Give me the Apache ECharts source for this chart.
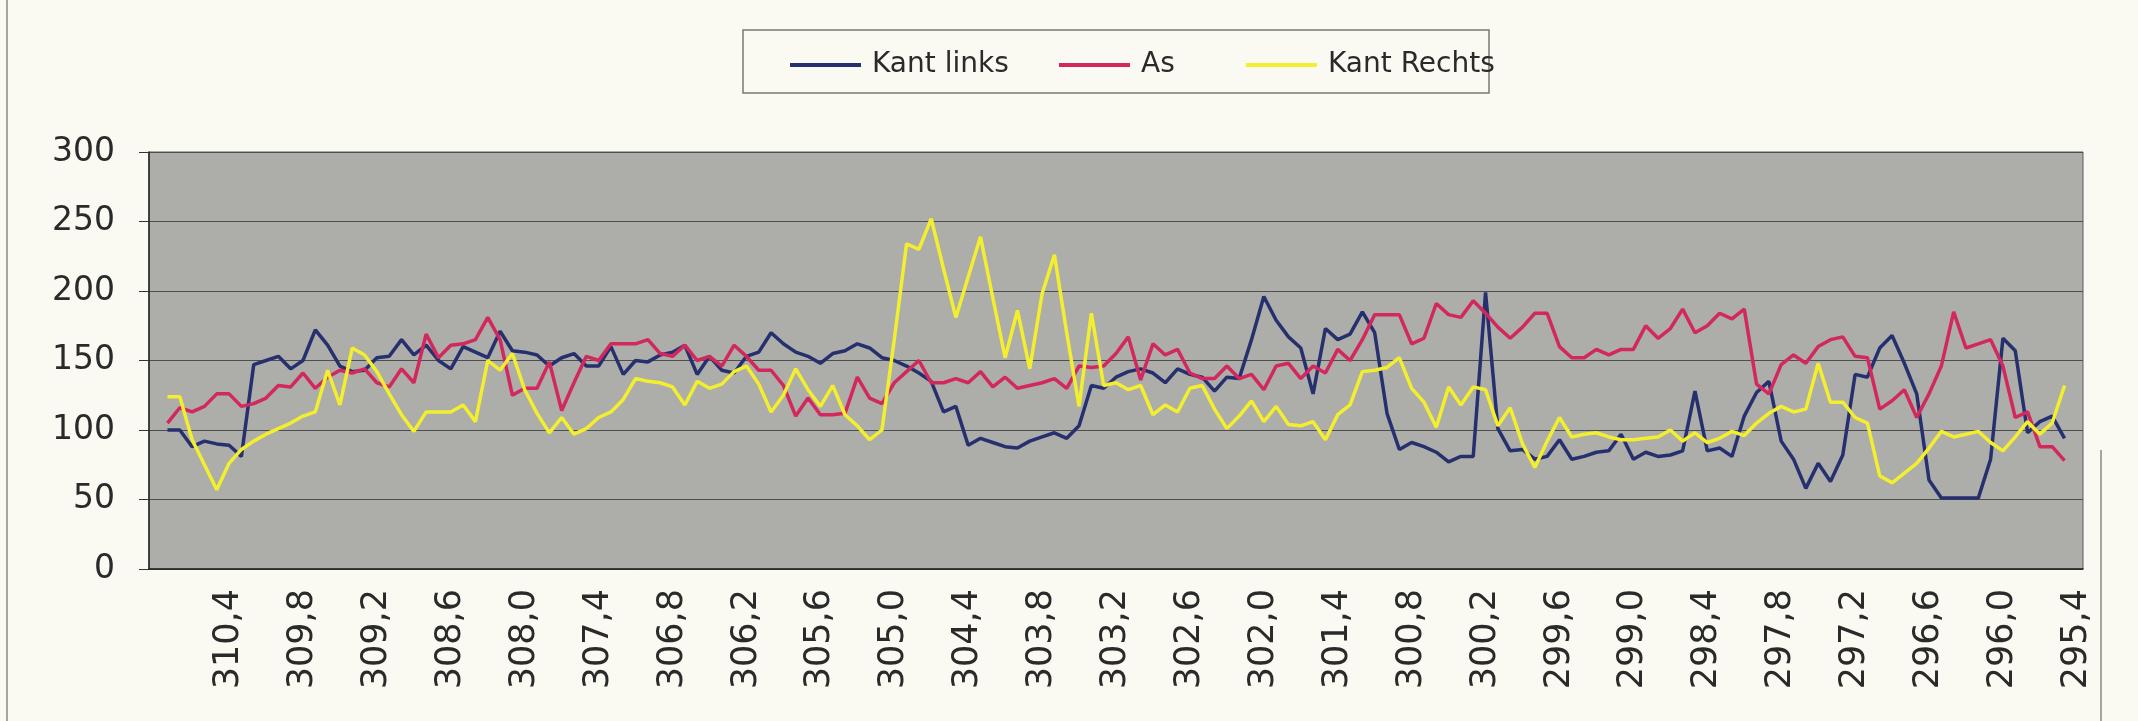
<!DOCTYPE html>
<html>
<head>
<meta charset="utf-8">
<script src="https://cdn.jsdelivr.net/npm/echarts@6/dist/echarts.min.js"></script>
<style>
html,body{margin:0;padding:0;background:#fafaf2;}
#chart{width:2138px;height:721px;}
</style>
</head>
<body>
<div id="chart"></div>
<script>
// Category labels (first and last category carry no data in the reference)
const categories = [
'311,0',
'310,9','310,8','310,7','310,6','310,5','310,4','310,3','310,2','310,1','310,0',
'309,9','309,8','309,7','309,6','309,5','309,4','309,3','309,2','309,1','309,0',
'308,9','308,8','308,7','308,6','308,5','308,4','308,3','308,2','308,1','308,0',
'307,9','307,8','307,7','307,6','307,5','307,4','307,3','307,2','307,1','307,0',
'306,9','306,8','306,7','306,6','306,5','306,4','306,3','306,2','306,1','306,0',
'305,9','305,8','305,7','305,6','305,5','305,4','305,3','305,2','305,1','305,0',
'304,9','304,8','304,7','304,6','304,5','304,4','304,3','304,2','304,1','304,0',
'303,9','303,8','303,7','303,6','303,5','303,4','303,3','303,2','303,1','303,0',
'302,9','302,8','302,7','302,6','302,5','302,4','302,3','302,2','302,1','302,0',
'301,9','301,8','301,7','301,6','301,5','301,4','301,3','301,2','301,1','301,0',
'300,9','300,8','300,7','300,6','300,5','300,4','300,3','300,2','300,1','300,0',
'299,9','299,8','299,7','299,6','299,5','299,4','299,3','299,2','299,1','299,0',
'298,9','298,8','298,7','298,6','298,5','298,4','298,3','298,2','298,1','298,0',
'297,9','297,8','297,7','297,6','297,5','297,4','297,3','297,2','297,1','297,0',
'296,9','296,8','296,7','296,6','296,5','296,4','296,3','296,2','296,1','296,0',
'295,9','295,8','295,7','295,6','295,5','295,4'
];

const yTicks = [0, 50, 100, 150, 200, 250, 300];

// Values from 310,9 to 295,5
const kantLinks = [
100,100,88,92,90,89,81,147,150,153,
144,150,172,161,146,142,143,152,153,165,
154,161,150,144,160,156,152,171,157,156,
154,146,152,155,146,146,160,140,150,149,
154,156,161,140,153,143,141,153,156,170,
162,156,153,148,155,157,162,159,152,150,
146,141,135,113,117,89,94,91,88,87,
92,95,98,94,103,132,130,138,142,144,
141,134,144,140,138,128,138,137,165,196,
179,167,159,126,173,165,169,185,170,112,
86,91,88,84,77,81,81,199,101,85,
86,79,81,93,79,81,84,85,97,79,
84,81,82,85,128,85,87,81,110,127,
135,92,79,58,76,63,82,140,138,159,
168,148,126,64,51,51,51,51,79,166,
157,98,106,110,94
];

const as = [
105,116,113,117,126,126,117,119,123,132,
131,141,130,138,143,141,144,134,131,144,
134,169,152,161,162,165,181,165,125,130,
130,149,114,134,153,150,162,162,162,165,
155,153,161,150,153,146,161,153,143,143,
132,110,123,111,111,112,138,123,119,134,
142,150,134,134,137,134,142,131,138,130,
132,134,137,130,146,145,146,155,167,136,
162,154,158,141,137,137,146,137,140,129,
146,148,137,146,141,158,150,165,183,183,
183,162,166,191,183,181,193,184,174,166,
174,184,184,160,152,152,158,154,158,158,
175,166,173,187,170,175,184,180,187,133,
126,147,154,148,160,165,167,153,152,115,
121,129,109,126,146,185,159,162,165,146,
109,113,88,88,78
];

const kantRechts = [
124,124,93,75,57,76,86,92,97,101,
105,110,113,143,118,159,154,142,126,111,
99,113,113,113,118,106,150,143,155,129,
112,98,109,97,101,109,113,122,137,135,
134,131,118,135,130,133,142,146,133,113,
125,144,129,117,132,111,103,93,100,165,
234,230,252,216,181,210,239,195,152,186,
144,198,226,170,117,184,132,134,129,132,
111,118,113,130,132,115,101,110,121,106,
117,104,103,106,93,111,118,142,143,145,
152,130,120,102,131,118,131,129,103,116,
90,73,92,109,95,97,98,95,93,93,
94,95,100,92,98,91,94,99,96,105,
112,117,113,115,148,120,120,109,105,67,
62,69,76,87,99,95,97,99,91,85,
95,106,97,105,132
];

const seriesNames = ['Kant links', 'As', 'Kant Rechts'];
const seriesColors = ['#27306e', '#d2285e', '#f3ef2e'];

function padded(v) { return [null].concat(v).concat([null]); }

const FONT = 'DejaVu Sans';
const chart = echarts.init(document.getElementById('chart'), null, {renderer: 'canvas'});

const legendBase = {
  top: 46, itemWidth: 71, itemHeight: 4, itemGap: 0, icon: 'rect',
  textStyle: {fontFamily: FONT, fontSize: 28, color: '#2a2a2a', padding: [0, 0, 0, 6]}
};

chart.setOption({
  backgroundColor: '#fafaf2',
  animation: false,
  graphic: [
    {type: 'rect', shape: {x: 743, y: 30, width: 746, height: 63},
     style: {fill: 'rgba(0,0,0,0)', stroke: '#7a7a72', lineWidth: 1.5}, z: 0},
    {type: 'line', shape: {x1: 7, y1: 0, x2: 7, y2: 721},
     style: {stroke: '#8a8a82', lineWidth: 1.5}},
    {type: 'line', shape: {x1: 2101, y1: 450, x2: 2101, y2: 721},
     style: {stroke: '#8a8a82', lineWidth: 1.5}}
  ],
  legend: [
    Object.assign({left: 785, data: [seriesNames[0]]}, legendBase),
    Object.assign({left: 1054, data: [seriesNames[1]]}, legendBase),
    Object.assign({left: 1241, data: [seriesNames[2]]}, legendBase)
  ],
  grid: {
    left: 149, right: 55, top: 152, bottom: 152,
    show: true, backgroundColor: '#adadaa', borderColor: '#5a5a5a', borderWidth: 1
  },
  xAxis: {
    type: 'category',
    data: categories,
    boundaryGap: true,
    axisLine: {lineStyle: {color: '#222', width: 1.5}},
    axisTick: {interval: 0, length: 6, lineStyle: {color: '#333'}},
    axisLabel: {
      interval: function (index) { return index > 0 && index % 6 === 0; },
      rotate: 90, margin: 20,
      fontFamily: FONT, fontSize: 35, color: '#2a2a2a'
    },
    splitLine: {show: false}
  },
  yAxis: {
    type: 'value',
    min: yTicks[0], max: yTicks[yTicks.length - 1], interval: 50,
    axisLine: {show: true, lineStyle: {color: '#222', width: 1.5}},
    axisTick: {show: true, length: 10, lineStyle: {color: '#333'}},
    axisLabel: {margin: 34, fontFamily: FONT, fontSize: 33, color: '#2a2a2a'},
    splitLine: {lineStyle: {color: '#4e4e4e', width: 1.2}}
  },
  series: [
    {name: seriesNames[0], type: 'line', data: padded(kantLinks), symbol: 'none',
     lineStyle: {color: seriesColors[0], width: 3.5}, itemStyle: {color: seriesColors[0]}},
    {name: seriesNames[1], type: 'line', data: padded(as), symbol: 'none',
     lineStyle: {color: seriesColors[1], width: 3.5}, itemStyle: {color: seriesColors[1]}},
    {name: seriesNames[2], type: 'line', data: padded(kantRechts), symbol: 'none',
     lineStyle: {color: seriesColors[2], width: 3.5}, itemStyle: {color: seriesColors[2]}}
  ]
});
</script>
</body>
</html>
